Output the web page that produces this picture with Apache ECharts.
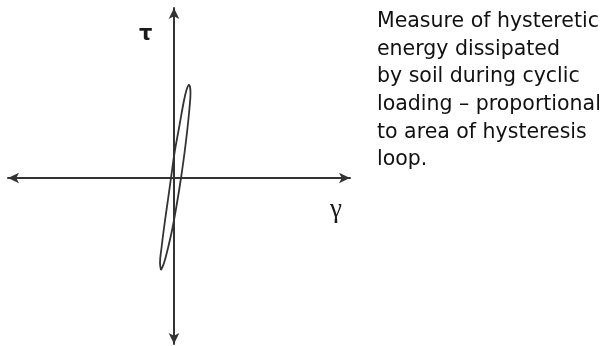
<!DOCTYPE html>
<html>
<head>
<meta charset="utf-8">
<script src="https://cdn.jsdelivr.net/npm/echarts@6/dist/echarts.min.js"></script>
<style>
  html, body { margin: 0; padding: 0; background: #fff; }
  #chart { width: 608px; height: 346px; }
</style>
</head>
<body>
<div id="chart"></div>
<script>
// Hysteresis loop traced around one load cycle (shear strain γ, shear stress τ)
const loopStrain = [-13, -10, -6, -1.5, 3, 7, 10.5, 13.5, 15.5, 16.5, 15, 12.5, 9.5, 5, 0.5, -3, -6.5, -10, -12.5, -14, -13];
const loopStress = [-92, -85, -70, -50, -25, 0, 25, 50, 70, 85, 93, 88, 75, 50, 25, 0, -25, -50, -70, -85, -92];

const strainRange = [-166, 176];
const stressRange = [-166, 170];

const noteLines = [
  'Measure of hysteretic',
  'energy dissipated',
  'by soil during cyclic',
  'loading \u2013 proportional',
  'to area of hysteresis',
  'loop.'
];

const loopData = loopStrain.map((g, i) => [g, loopStress[i]]);

const axisLineStyle = {
  show: true,
  onZero: true,
  symbol: ['arrow', 'arrow'],
  symbolSize: [8, 11],
  lineStyle: { color: '#333', width: 2 }
};

const chart = echarts.init(document.getElementById('chart'), null, { renderer: 'canvas' });
chart.setOption({
  animation: false,
  backgroundColor: '#ffffff',
  grid: { left: 8, right: 258, top: 8, bottom: 2 },
  xAxis: {
    type: 'value',
    min: strainRange[0], max: strainRange[1],
    axisLine: axisLineStyle,
    axisTick: { show: false },
    axisLabel: { show: false },
    splitLine: { show: false }
  },
  yAxis: {
    type: 'value',
    min: stressRange[0], max: stressRange[1],
    axisLine: axisLineStyle,
    axisTick: { show: false },
    axisLabel: { show: false },
    splitLine: { show: false }
  },
  series: [{
    type: 'line',
    data: loopData,
    smooth: 0.4,
    showSymbol: false,
    lineStyle: { color: '#333', width: 1.8 },
    z: 3
  }],
  graphic: [
    {
      type: 'text', left: 139, top: 24,
      style: { text: '\u03c4', font: 'bold 21px "DejaVu Sans"', fill: '#1a1a1a' }
    },
    {
      type: 'text', left: 330, top: 196,
      style: { text: '\u03b3', font: '27px "Liberation Serif"', fill: '#1a1a1a' }
    },
    {
      type: 'text', left: 377, top: 8,
      style: {
        text: noteLines.join('\n'),
        font: '20.5px "DejaVu Sans"',
        lineHeight: 27.6,
        fill: '#111'
      }
    }
  ]
});
</script>
</body>
</html>
